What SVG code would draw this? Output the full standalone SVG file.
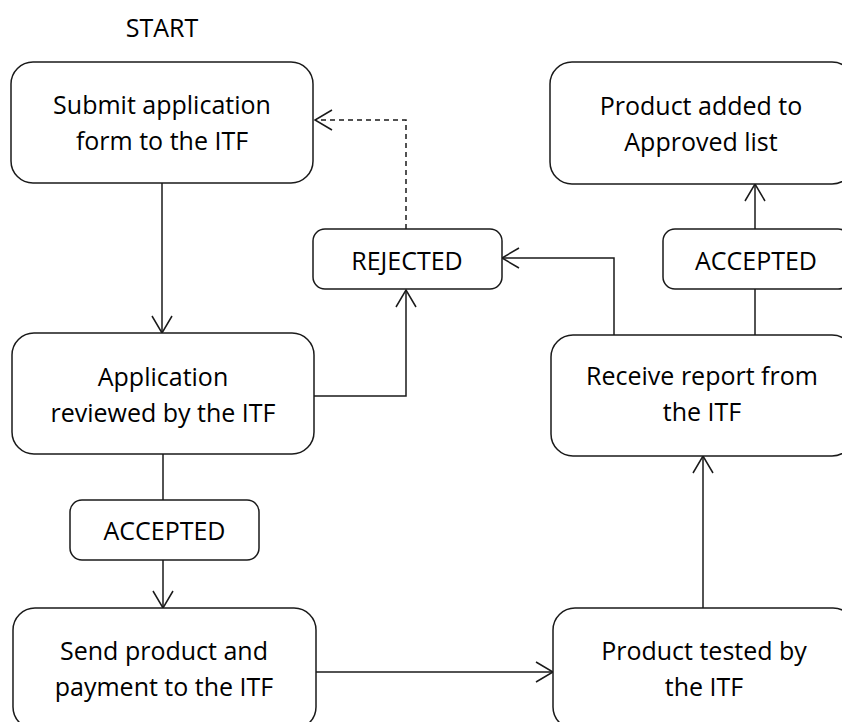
<svg xmlns="http://www.w3.org/2000/svg" width="842" height="722" viewBox="0 0 842 722">
<style>
.box{fill:#fff;stroke:#1a1a1a;stroke-width:1.5}
.t{font-family:"Open Sans","Liberation Sans",sans-serif;font-size:25px;fill:#000;text-anchor:middle}
.c{fill:none;stroke:#1a1a1a;stroke-width:1.5}
.d{stroke-dasharray:5 4}
</style>
<defs>
<marker id="ah" viewBox="0 0 20 24" refX="18" refY="12" markerWidth="20" markerHeight="24" markerUnits="userSpaceOnUse" orient="auto">
<path d="M1,2 L18,12 L1,22" fill="none" stroke="#1a1a1a" stroke-width="1.5"/>
</marker>
</defs>
<rect width="842" height="722" fill="#fff"/>
<text class="t" x="162" y="37">START</text>
<g id="connectors">
<path class="c" d="M162,183 V333" marker-end="url(#ah)"/>
<path class="c" d="M314,396 H406 V290" marker-end="url(#ah)"/>
<path class="c d" d="M406,229 V120 H315" marker-end="url(#ah)"/>
<path class="c" d="M614,335 V258 H502" marker-end="url(#ah)"/>
<path class="c" d="M163,454 V500"/>
<path class="c" d="M163,560 V608" marker-end="url(#ah)"/>
<path class="c" d="M316,672 H553" marker-end="url(#ah)"/>
<path class="c" d="M703,608 V456" marker-end="url(#ah)"/>
<path class="c" d="M755,335 V289"/>
<path class="c" d="M755,229 V184" marker-end="url(#ah)"/>
</g>
<g id="submit">
<rect class="box" x="11" y="62" width="302" height="121" rx="22"/>
<text class="t" x="162" y="114">Submit application</text>
<text class="t" x="162" y="150">form to the ITF</text>
</g>
<g id="review">
<rect class="box" x="12" y="333" width="302" height="121" rx="22"/>
<text class="t" x="163" y="386">Application</text>
<text class="t" x="163" y="422">reviewed by the ITF</text>
</g>
<g id="accepted1">
<rect class="box" x="70" y="500" width="189" height="60" rx="12"/>
<text class="t" x="164.5" y="540">ACCEPTED</text>
</g>
<g id="send">
<rect class="box" x="13" y="608" width="303" height="121" rx="22"/>
<text class="t" x="164" y="660">Send product and</text>
<text class="t" x="164" y="696">payment to the ITF</text>
</g>
<g id="rejected">
<rect class="box" x="313" y="229" width="189" height="60" rx="12"/>
<text class="t" x="407" y="270">REJECTED</text>
</g>
<g id="added">
<rect class="box" x="550" y="62" width="304" height="122" rx="22"/>
<text class="t" x="701" y="115">Product added to</text>
<text class="t" x="701" y="151">Approved list</text>
</g>
<g id="accepted2">
<rect class="box" x="663" y="229" width="187" height="60" rx="12"/>
<text class="t" x="756" y="270">ACCEPTED</text>
</g>
<g id="receive">
<rect class="box" x="551" y="335" width="303" height="121" rx="22"/>
<text class="t" x="702" y="385">Receive report from</text>
<text class="t" x="702" y="421">the ITF</text>
</g>
<g id="tested">
<rect class="box" x="553" y="608" width="302" height="121" rx="22"/>
<text class="t" x="704" y="660">Product tested by</text>
<text class="t" x="704" y="696">the ITF</text>
</g>
</svg>
